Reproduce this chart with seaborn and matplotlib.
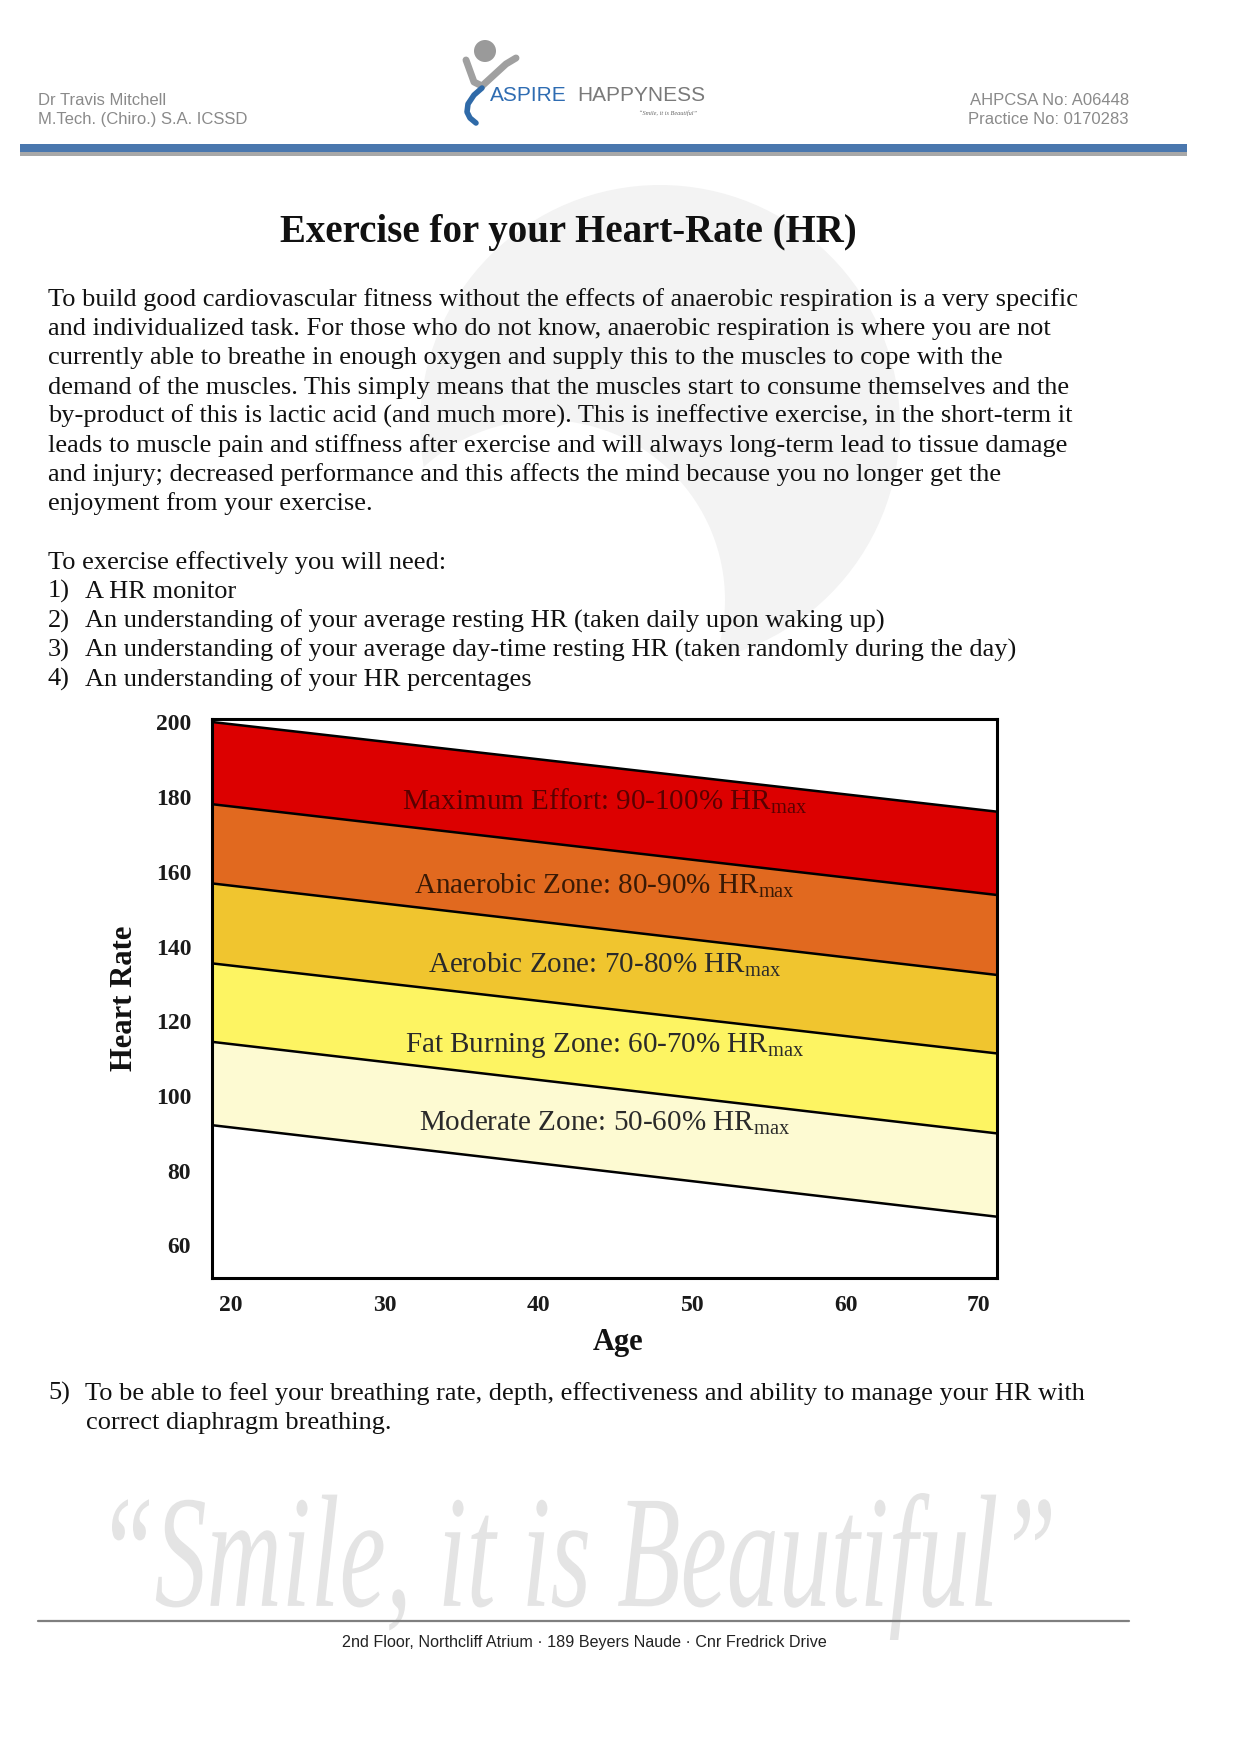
import matplotlib
matplotlib.use("Agg")
import matplotlib.pyplot as plt
import seaborn as sns
import pandas as pd
from matplotlib.patches import Circle, PathPatch, Rectangle
from matplotlib.textpath import TextPath
from matplotlib.font_manager import FontProperties
from matplotlib.transforms import Affine2D

# ---- chart data ----
ages = [18.75, 69.8]
hr_100 = [200.1, 176.1]
hr_90 = [178.1, 153.8]
hr_80 = [156.9, 132.4]
hr_70 = [135.5, 111.4]
hr_60 = [114.5, 90.0]
hr_50 = [92.2, 67.7]

zone_names = ["Maximum Effort: 90-100% ", "Anaerobic Zone: 80-90% ", "Aerobic Zone: 70-80% ",
              "Fat Burning Zone: 60-70% ", "Moderate Zone: 50-60% "]
zone_colors = ["#dc0000", "#e1691f", "#f0c52f", "#fdf462", "#fdfad2"]
zone_label_y = [178.8, 156.3, 135.1, 113.6, 92.9]
zone_label_x = 44.3

y_ticks = [60, 80, 100, 120, 140, 160, 180, 200]
x_ticks = [20, 30, 40, 50, 60, 68.6]
x_tick_labels = ["20", "30", "40", "50", "60", "70"]

# ---- page text ----
title = "Exercise for your Heart-Rate (HR)"
paragraph = [
    "To build good cardiovascular fitness without the effects of anaerobic respiration is a very specific",
    "and individualized task. For those who do not know, anaerobic respiration is where you are not",
    "currently able to breathe in enough oxygen and supply this to the muscles to cope with the",
    "demand of the muscles. This simply means that the muscles start to consume themselves and the",
    "by-product of this is lactic acid (and much more). This is ineffective exercise, in the short-term it",
    "leads to muscle pain and stiffness after exercise and will always long-term lead to tissue damage",
    "and injury; decreased performance and this affects the mind because you no longer get the",
    "enjoyment from your exercise.",
]
needs_intro = "To exercise effectively you will need:"
needs = [
    ("1)", "A HR monitor"),
    ("2)", "An understanding of your average resting HR (taken daily upon waking up)"),
    ("3)", "An understanding of your average day-time resting HR (taken randomly during the day)"),
    ("4)", "An understanding of your HR percentages"),
]
need_5 = ["To be able to feel your breathing rate, depth, effectiveness and ability to manage your HR with",
          "correct diaphragm breathing."]

sns.set_theme(style="white")
plt.rcParams["font.family"] = ["Liberation Serif", "DejaVu Serif"]
plt.rcParams["mathtext.fontset"] = "custom"
plt.rcParams["mathtext.rm"] = "Liberation Serif"

W, H = 1240, 1753
fig = plt.figure(figsize=(W / 100, H / 100), dpi=100)
fig.patch.set_facecolor("white")

# background axes in pixel coordinates
bg = fig.add_axes([0, 0, 1, 1], zorder=0)
bg.set_xlim(0, W)
bg.set_ylim(H, 0)
bg.axis("off")

# faint watermark behind body text
bg.add_patch(Circle((660, 425), 240, color="#f3f3f3", lw=0, zorder=0))
bg.add_patch(Circle((545, 600), 180, color="white", lw=0, zorder=0))

# header
sans = ["Liberation Sans", "DejaVu Sans"]
hdr = dict(family=sans, fontsize=12, color="#8a8a8a", va="center")
bg.text(38, 100, "Dr Travis Mitchell", **hdr)
bg.text(38, 119, "M.Tech. (Chiro.) S.A. ICSSD", **hdr)
bg.text(1129, 100, "AHPCSA No: A06448", ha="right", **hdr)
bg.text(1129, 119, "Practice No: 0170283", ha="right", **hdr)
bg.add_patch(Rectangle((20, 144), 1167, 8, color="#4a77ae", lw=0))
bg.add_patch(Rectangle((20, 152), 1167, 4, color="#a8a8a8", lw=0))

# logo
bg.add_patch(Circle((485, 51), 11, color="#9a9a9a", lw=0))
bg.plot([466, 474, 482, 506, 516], [60, 82, 86, 64, 58], color="#a0a0a0", lw=5, solid_capstyle="round")
bg.plot([482, 474, 468, 467, 470, 476], [88, 95, 104, 112, 118, 123], color="#2f6aa8", lw=4,
        solid_capstyle="round")
bg.text(490, 95, "ASPIRE", family=sans, fontsize=15, color="#2e6cb2", va="center")
bg.text(577, 95, "HAPPYNESS", family=sans, fontsize=15, color="#7a7a7a", va="center")
bg.text(668, 113, "\u201cSmile, it is Beautiful\u201d", fontsize=4.5, style="italic", color="#666666",
        va="center", ha="center")

# title and body
bg.text(568, 232, title, fontsize=28, weight="bold", ha="center", va="center", color="#111111")
body_kw = dict(fontsize=19, color="#111111", va="baseline")
base = [305.5, 334.6, 363.6, 393.8, 422.9, 452, 481, 510]
for y, line in zip(base, paragraph):
    bg.text(48, y, line, **body_kw)
bg.text(48, 569, needs_intro, **body_kw)
for y, (num, line) in zip([598, 627.5, 656.6, 685.6], needs):
    bg.text(48, y, num, **body_kw)
    bg.text(85, y, line, **body_kw)
bg.text(48, 1400, "5)", **body_kw)
bg.text(85, 1400, need_5[0], **body_kw)
bg.text(86, 1429, need_5[1], **body_kw)

# footer watermark slogan
slogan = "\u201cSmile, it is Beautiful\u201d"
tp = TextPath((0, 0), slogan, size=100, prop=FontProperties(family="Liberation Serif", style="italic"))
ext = tp.get_extents()
sx = (1051 - 112) / ext.width
sy = (1640 - 1493) / ext.height
tr = Affine2D().translate(-ext.x0, -ext.y1).scale(sx, -sy).translate(112, 1493)
bg.add_patch(PathPatch(tr.transform_path(tp), color="#e4e4e4", lw=0, zorder=1))
bg.plot([38, 1129], [1621, 1621], color="#7f7f7f", lw=1.6, zorder=2)
bg.text(584, 1643, "2nd Floor, Northcliff Atrium \u00b7 189 Beyers Naude \u00b7 Cnr Fredrick Drive",
        family=["Liberation Sans Narrow", "Liberation Sans", "DejaVu Sans"], fontsize=11.6,
        color="#222222", ha="center", va="center", zorder=3)

# ---- chart ----
ax = fig.add_axes([212 / W, 1 - 1278 / H, (997 - 212) / W, (1278 - 719) / H], zorder=2)
ax.set_facecolor("white")

bounds = [hr_100, hr_90, hr_80, hr_70, hr_60, hr_50]
for upper, lower, col in zip(bounds[:-1], bounds[1:], zone_colors):
    ax.fill_between(ages, lower, upper, color=col, lw=0)

lines_df = pd.DataFrame({
    "Age": ages * len(bounds),
    "HR": [v for b in bounds for v in b],
    "bound": [i for i in range(len(bounds)) for _ in ages],
})
sns.lineplot(data=lines_df, x="Age", y="HR", units="bound", estimator=None, color="black",
             linewidth=1.8, ax=ax, legend=False)

label_colors = ["#5a0000", "#3a1a05", "#2a2a2a", "#2a2a2a", "#2a2a2a"]
for name, y, c in zip(zone_names, zone_label_y, label_colors):
    ax.text(zone_label_x, y, name + r"HR$_{\mathrm{max}}$", fontsize=21, color=c,
            ha="center", va="center")

ax.set_xlim(18.75, 69.8)
ax.set_ylim(51.3, 200.9)
ax.set_yticks(y_ticks)
ax.set_yticklabels([str(v) for v in y_ticks])
ax.set_xticks(x_ticks)
ax.set_xticklabels(x_tick_labels)
ax.tick_params(length=0, labelsize=17, colors="#1a1a1a")
ax.tick_params(axis="y", pad=15)
ax.tick_params(axis="x", pad=12)
for lab in ax.get_xticklabels() + ax.get_yticklabels():
    lab.set_fontweight("bold")
for sp in ax.spines.values():
    sp.set_visible(True)
    sp.set_color("black")
    sp.set_linewidth(2.2)

ax.set_xlabel("Age", fontsize=22, fontweight="bold", color="#111111")
ax.set_ylabel("Heart Rate", fontsize=22, fontweight="bold", color="#111111")
ax.xaxis.set_label_coords(0.517, -0.09)
ax.yaxis.set_label_coords(-0.093, 0.5)

fig.savefig("out.png", dpi=100)
